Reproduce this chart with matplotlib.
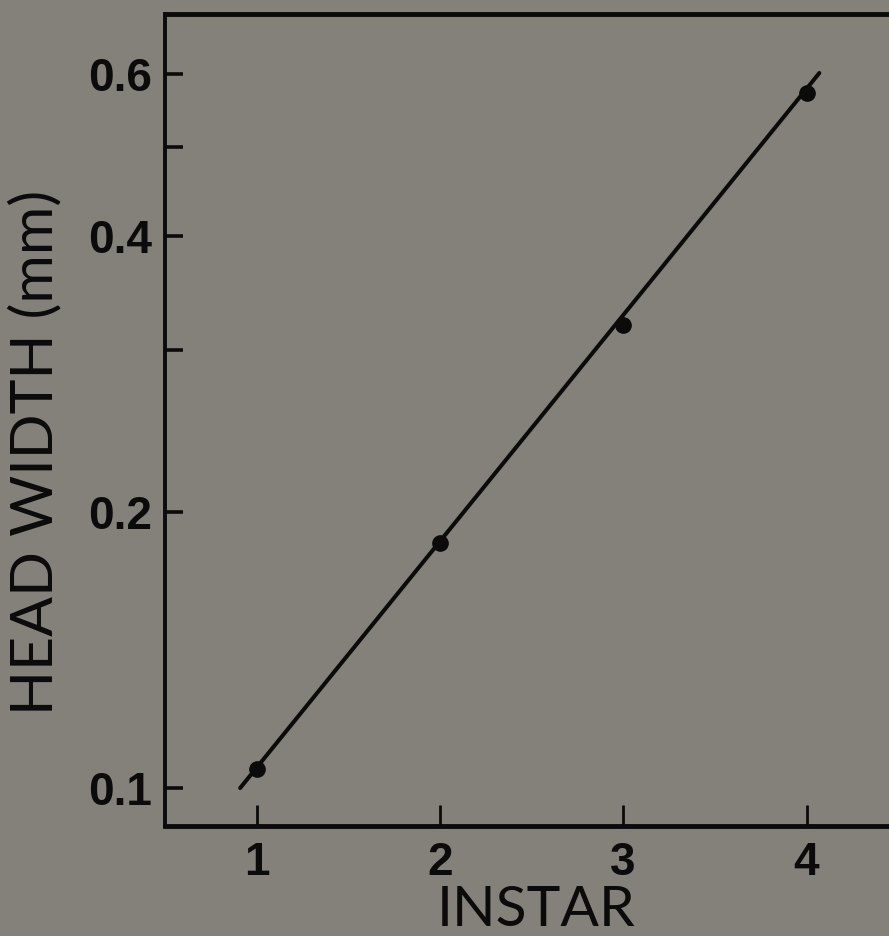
import numpy as np
import matplotlib
matplotlib.use("Agg")
import matplotlib.pyplot as plt
from matplotlib.ticker import FixedLocator, NullFormatter

# head width per instar
instar = [1, 2, 3, 4]
head_width = [0.105, 0.185, 0.320, 0.573]

# fitted line, as drawn
fit_x = [0.91, 4.07]
fit_y = [0.100, 0.602]

yticks = [0.1, 0.2, 0.4, 0.6]
ytick_labels = ["0.1", "0.2", "0.4", "0.6"]
yminor = [0.3, 0.5]

bg = "#84817b"
ink = "#0b0b0b"

fig = plt.figure(figsize=(8.89, 9.36), dpi=100, facecolor=bg)
ax = fig.add_axes([0.1856, 0.1175, 0.8247, 0.8675], facecolor=bg)

ax.plot(fit_x, fit_y, color=ink, lw=2.9, solid_capstyle="round")
ax.plot(instar, head_width, "o", color=ink, ms=11)

ax.set_yscale("log")
ax.set_xlim(0.5, 4.5)
ax.set_ylim(0.0909, 0.698)

ax.yaxis.set_major_locator(FixedLocator(yticks))
ax.set_yticklabels(ytick_labels)
ax.yaxis.set_minor_locator(FixedLocator(yminor))
ax.yaxis.set_minor_formatter(NullFormatter())
ax.set_xticks(instar)

for lab in ax.get_xticklabels() + ax.get_yticklabels():
    lab.set_fontfamily("Liberation Sans")
    lab.set_fontweight("bold")
    lab.set_fontsize(33)
    lab.set_color(ink)

ax.tick_params(axis="y", which="both", direction="in", length=13, width=2.6,
               color=ink, pad=9)
ax.tick_params(axis="x", direction="in", length=15, width=2.0, color=ink, pad=11)

ax.spines["right"].set_visible(False)
ax.spines["left"].set_linewidth(2.8)
ax.spines["top"].set_linewidth(3.5)
ax.spines["bottom"].set_linewidth(3.5)
for s in ax.spines.values():
    s.set_color(ink)

fig.text(36 / 889, 1 - 452 / 936, "HEAD WIDTH (mm)", rotation=90,
         ha="center", va="center", family="Lato", size=42.5, color=ink)
fig.text(536 / 889, 1 - 911 / 936, "INSTAR", ha="center", va="center",
         family="Lato", size=41, color=ink)

fig.savefig("out.png", dpi=100, facecolor=bg)
